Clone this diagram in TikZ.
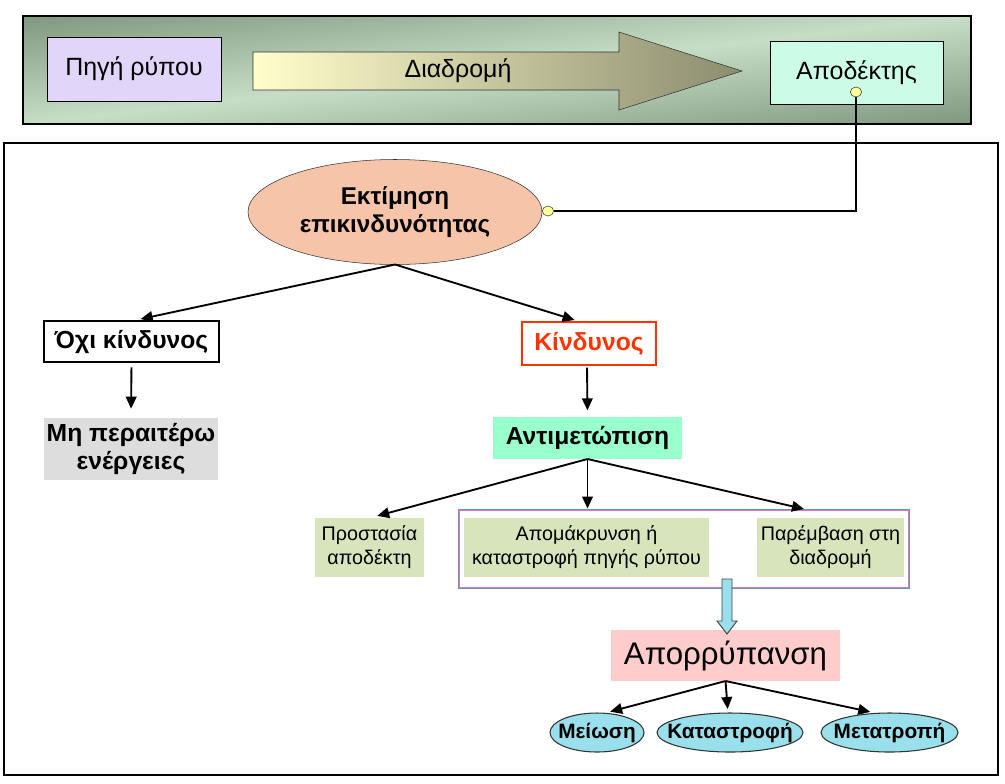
\documentclass[tikz,border=0pt]{standalone}
\usepackage{fontspec}
\setmainfont{Liberation Sans}
\usetikzlibrary{shapes,arrows.meta,calc,positioning}
\definecolor{bandark}{HTML}{809780}
\definecolor{banlight}{HTML}{C6DEC6}
\definecolor{lilac}{HTML}{E2D5FA}
\definecolor{mint}{HTML}{CCFCE8}
\definecolor{peach}{HTML}{F6C4A8}
\definecolor{riskred}{HTML}{FF3300}
\definecolor{pale}{HTML}{DDDDDD}
\definecolor{aqua}{HTML}{99FFCC}
\definecolor{olive}{HTML}{D7E4BC}
\definecolor{rose}{HTML}{FFCCCC}
\definecolor{sky}{HTML}{99E0EC}
\definecolor{dotyel}{HTML}{FFFF99}
\definecolor{grpline}{HTML}{669988}
\definecolor{grppink}{HTML}{DD77DD}
\begin{document}
\begin{tikzpicture}[x=0.75pt,y=-0.75pt,
block/.style={draw,rectangle,inner sep=0pt,outer sep=0pt,align=center},
plain/.style={rectangle,inner sep=0pt,outer sep=0pt,align=center},
oval/.style={draw=black!80,ellipse,inner sep=0pt,outer sep=0pt,align=center},
leaf/.style={oval,fill=sky,line width=0.8pt,inner xsep=-14pt,minimum height=29.25pt,font=\fontsize{15.6}{18}\selectfont\bfseries},
dot/.style={draw=black!80,fill=dotyel,ellipse,minimum width=8.5pt,minimum height=7.5pt,inner sep=0pt},
arr/.style={line width=1.4pt,-{Triangle[length=9pt,width=8pt]}},
top/.style={font=\fontsize{18.7}{22}\selectfont},
big/.style={font=\fontsize{18.5}{21}\selectfont\bfseries},
small/.style={font=\fontsize{14.8}{18}\selectfont}]

\useasboundingbox (0,0) rectangle (1005,783);

\begin{scope}
\clip (23,16) rectangle (971,124);
\begin{scope}[transform canvas={rotate around={6.5:(497,70)}}]
\shade[top color=bandark,bottom color=bandark,middle color=banlight] (-200,-37) rectangle (1200,177);
\end{scope}
\end{scope}
\draw[line width=0.9pt] (23,16) rectangle (971,124);
\draw[line width=0.9pt] (4,143) rectangle (998,775);

\node[block,top,fill=lilac,minimum width=130.5pt,minimum height=48pt] (src) at (134,69) {Πηγή ρύπου};
\shadedraw[draw=black!80,left color=yellow!20,middle color={rgb,255:red,200;green,196;blue,158},right color={rgb,255:red,140;green,140;blue,112}]
  (253,52) -- (619,52) -- (619,32) -- (742,71) -- (619,110) -- (619,90) -- (253,90) -- cycle;
\node[plain,top] (route) at (458,71) {Διαδρομή};
\node[block,top,fill=mint,minimum width=129.75pt,minimum height=47.25pt] (rcv) at (856.5,72.5) {Αποδέκτης};

\node[oval,fill=peach,minimum width=220.5pt,minimum height=78.75pt,font=\fontsize{18.2}{21}\selectfont\bfseries] (est) at (395,212) {Εκτίμηση\\επικινδυνότητας};
\node[dot] (d1) at (856,92) {};
\node[dot] (d2) at (548,211) {};
\draw[line width=1.2pt] (d1) |- (d2);

\node[block,big,fill=white,line width=0.9pt,minimum width=131.25pt,minimum height=30.75pt] (nr) at (131.5,341.5) {Όχι κίνδυνος};
\node[block,big,draw=riskred,text=riskred,line width=0.9pt,minimum width=100.5pt,minimum height=32.25pt] (rk) at (589,343.5) {Κίνδυνος};
\node[plain,big,fill=pale,minimum width=130.5pt,minimum height=46.5pt] (na) at (131,449) {Μη περαιτέρω\\ενέργειες};
\node[plain,big,fill=aqua,minimum width=141.75pt,minimum height=31.5pt] (tr) at (587.5,438) {Αντιμετώπιση};

\draw[arr,shorten >=7pt] (est.south) -- (nr.north);
\draw[arr,shorten >=5pt] (est.south) -- ([xshift=-6pt]rk.north);
\draw[arr,shorten <=4pt,shorten >=7pt] (nr.south) -- (na.north);
\draw[arr,shorten <=2pt,shorten >=5pt] ([xshift=-1.5pt]rk.south) -- (tr.north);

\node[draw=grpline,line width=0.75pt,rectangle,inner sep=0pt,minimum width=338.25pt,minimum height=59.25pt] (grp) at (683.5,548.5) {};
\draw[grppink,line width=0.6pt] ([shift={(1.1pt,-1.1pt)}]grp.north west) rectangle ([shift={(-1.1pt,1.1pt)}]grp.south east);
\node[plain,small,fill=olive,minimum width=81.75pt,minimum height=44.25pt] (pr) at (369.5,547.5) {Προστασία\\αποδέκτη};
\node[plain,small,fill=olive,minimum width=183.75pt,minimum height=44.25pt] (rm) at (586.5,547.5) {Απομάκρυνση ή\\καταστροφή πηγής ρύπου};
\node[plain,small,fill=olive,minimum width=110.25pt,minimum height=44.25pt] (iv) at (830.5,547.5) {Παρέμβαση στη\\διαδρομή};
\coordinate (grpR) at (804,509);

\draw[arr,shorten >=6pt] (tr.south) -- (pr.north);
\draw[arr] (tr.south) -- (tr.south |- grp.north);
\draw[arr] (tr.south) -- (grpR);

\node[plain,fill=rose,minimum width=171.75pt,minimum height=38.25pt,font=\fontsize{23.4}{28}\selectfont] (cl) at (725.5,655.5) {Απορρύπανση};
\draw[draw=black!75,fill=sky,line width=0.7pt] (722,579) -- (732,579) -- (732,621) -- (737,621) -- (727,634) -- (717,621) -- (722,621) -- cycle;

\node[leaf,minimum width=70.5pt] (rd) at (597,732.5) {Μείωση};
\node[leaf,minimum width=109.5pt] (ds) at (730,732.5) {Καταστροφή};
\node[leaf,minimum width=102.75pt] (cv) at (889.5,732.5) {Μετατροπή};

\draw[arr,shorten >=4pt] (cl.south) -- ([xshift=6pt]rd.north);
\draw[arr,shorten >=3pt] (cl.south) -- ([xshift=-1.5pt]ds.north);
\draw[arr,shorten >=4pt] (cl.south) -- ([xshift=-10.5pt]cv.north);
\end{tikzpicture}
\end{document}
